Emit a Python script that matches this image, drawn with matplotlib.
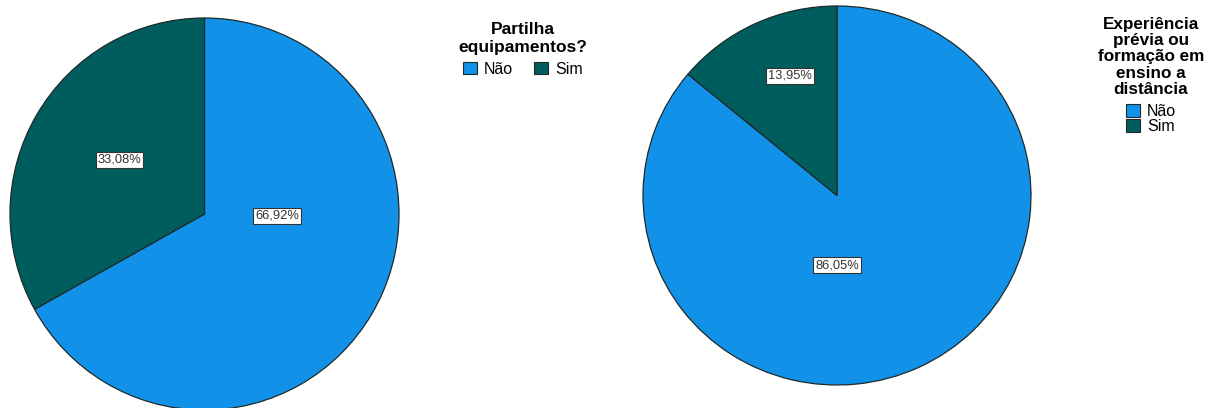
import matplotlib
matplotlib.use("Agg")
import matplotlib.pyplot as plt
from matplotlib.patches import Patch

plt.rcParams['font.family'] = ['Liberation Sans', 'DejaVu Sans']

# Data
categories = ["Não", "Sim"]
partilha_values = [66.92, 33.08]
experiencia_values = [86.05, 13.95]
partilha_title = "Partilha\nequipamentos?"
experiencia_title = "Experiência\nprévia ou\nformação em\nensino a\ndistância"

colors = ["#1192E8", "#005D5D"]
edge = "#1e2a2a"

W, H = 1212, 408
fig = plt.figure(figsize=(W / 100, H / 100), dpi=100)


def px_axes(x0, y0, x1, y1):
    """Axes spanning a pixel box (y measured from the top)."""
    return fig.add_axes([x0 / W, (H - y1) / H, (x1 - x0) / W, (y1 - y0) / H])


def draw_pie(ax, values, label_pos):
    wedges, _ = ax.pie(values, colors=colors, startangle=90, counterclock=False,
                       radius=1.0,
                       wedgeprops=dict(edgecolor=edge, linewidth=0.9))
    for v, (lx, ly) in zip(values, label_pos):
        ax.text(lx, ly, f"{v:.2f}%".replace(".", ","), ha="center", va="center",
                fontsize=9.3, color="#333333",
                bbox=dict(boxstyle="square,pad=0.15", fc="white", ec="#333333", lw=0.8))
    ax.set_xlim(-1, 1)
    ax.set_ylim(-1, 1)
    ax.set_aspect("auto")
    ax.axis("off")


ax1 = px_axes(10, 18, 399, 410)
draw_pie(ax1, partilha_values, [(0.373, -0.01), (-0.437, 0.276)])

ax2 = px_axes(643, 6, 1031, 385)
draw_pie(ax2, experiencia_values, [(0.0, -0.368), (-0.242, 0.632)])

handles = [Patch(facecolor=c, edgecolor=edge, linewidth=0.8) for c in colors]

leg1 = fig.legend(handles, categories, title=partilha_title, ncol=2,
                  loc="upper center", bbox_to_anchor=(523 / W, 1 - 14 / H),
                  frameon=False, fontsize=11.5, handlelength=0.85, handleheight=0.85,
                  handletextpad=0.45, columnspacing=1.3, borderpad=0, labelspacing=0.05,
                  title_fontproperties=dict(weight="bold", size=12.5))
leg1.get_title().set_multialignment("center")
leg1.get_title().set_linespacing(1.22)
leg1._legend_box.sep = 5

leg2 = fig.legend(handles, categories, title=experiencia_title, ncol=1,
                  loc="upper center", bbox_to_anchor=(1151 / W, 1 - 9 / H),
                  frameon=False, fontsize=11.5, handlelength=0.85, handleheight=0.85,
                  handletextpad=0.45, borderpad=0, labelspacing=0.02,
                  title_fontproperties=dict(weight="bold", size=12.3))
leg2.get_title().set_multialignment("center")
leg2.get_title().set_linespacing(1.1)
leg2._legend_box.sep = 5

fig.savefig("out.png", dpi=100)
